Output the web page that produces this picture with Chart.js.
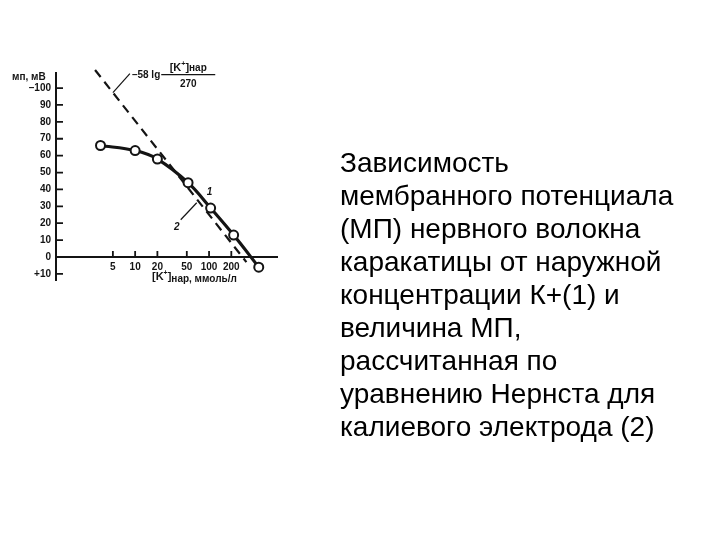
<!DOCTYPE html>
<html lang="ru">
<head>
<meta charset="utf-8">
<title>Мембранный потенциал</title>
<script src="https://cdn.jsdelivr.net/npm/chart.js@4"></script>
<style>
  body { margin: 0; background: #fff; }
  #wrap { position: relative; width: 720px; height: 540px; overflow: hidden; }
  #mpChart { position: absolute; left: 0; top: 0; }
  #caption {
    position: absolute; left: 340px; top: 146px;
    font-family: 'Liberation Sans', Arial, sans-serif;
    font-size: 28px; line-height: 33px; color: #000;
  }
</style>
</head>
<body>
<div id="wrap">
  <canvas id="mpChart" width="720" height="540"></canvas>
  <div id="caption">Зависимость<br>мембранного потенциала<br>(МП) нервного волокна<br>каракатицы от наружной<br>концентрации К+(1) и<br>величина МП,<br>рассчитанная по<br>уравнению Нернста для<br>калиевого электрода (2)</div>
</div>
<script>
// curve 1: measured MP vs external K+ (mmol/l)
const concentrations = [3.4, 10, 20, 52, 105, 215, 470];
const membranePotential = [66, 63, 58, 44, 29, 13, -6];
// line 2: Nernst estimate (two ends of the dashed line)
const nernstConc = [2.87, 320];
const nernstPotential = [110.7, -3];
// axis ticks
const xTicks = [5, 10, 20, 50, 100, 200];
const yTicks = [-10, 0, 10, 20, 30, 40, 50, 60, 70, 80, 90, 100];

const ink = '#141414';
const family = "'Liberation Sans', Arial, sans-serif";

function yLabel(v) {
    if (v === 100) return '\u2013100';
    if (v === -10) return '+10';
    return String(v);
}

// draw a run of text pieces: [text, font, dy]
function drawRun(ctx, x, y, parts) {
    parts.forEach(([text, font, dy]) => {
        ctx.font = font;
        ctx.fillText(text, x, y + (dy || 0));
        x += ctx.measureText(text).width;
    });
    return x;
}

function runWidth(ctx, parts) {
    let w = 0;
    parts.forEach(([text, font]) => { ctx.font = font; w += ctx.measureText(text).width; });
    return w;
}

const axisMarks = {
    id: 'axisMarks',
    afterDraw(chart) {
        const { ctx, scales: { x, y } } = chart;
        const y0 = y.getPixelForValue(0);
        const left = x.left;
        ctx.save();
        ctx.strokeStyle = ink;
        ctx.fillStyle = ink;
        ctx.lineWidth = 1.8;

        // inward tick marks
        ctx.beginPath();
        yTicks.forEach(v => {
            const py = y.getPixelForValue(v);
            ctx.moveTo(left, py);
            ctx.lineTo(left + 7, py);
        });
        xTicks.forEach(v => {
            const px = x.getPixelForValue(v);
            ctx.moveTo(px, y0);
            ctx.lineTo(px, y0 - 6);
        });
        ctx.stroke();

        // axis titles
        const b11 = 'bold 11px ' + family;
        const b10 = 'bold 10px ' + family;
        ctx.textBaseline = 'alphabetic';
        ctx.textAlign = 'left';
        drawRun(ctx, left - 44, y.top + 7, [['мп, мВ', b10]]);
        drawRun(ctx, left + 96, chart.chartArea.bottom, [
            ['[K', b11], ['+', 'bold 7px ' + family, -5], [']', b11], ['нар', b10, 2], [', ммоль/л', b10, 2]
        ]);

        // dashed-line label: -58 lg [K+]нар / 270
        const dx0 = x.getPixelForValue(nernstConc[0]), dy0 = y.getPixelForValue(nernstPotential[0]);
        const dx1 = x.getPixelForValue(nernstConc[1]), dy1 = y.getPixelForValue(nernstPotential[1]);
        const onDash = v => {
            const px = x.getPixelForValue(v);
            return [px, dy0 + (px - dx0) * (dy1 - dy0) / (dx1 - dx0)];
        };
        const [ax, ay] = onDash(5);
        ctx.lineWidth = 1.2;
        ctx.beginPath();
        ctx.moveTo(ax, ay);
        ctx.lineTo(ax + 17, ay - 19);
        ctx.stroke();
        const tx = ax + 19, ty = ay - 15;
        const endLg = drawRun(ctx, tx, ty, [['\u201358 lg', b10]]);
        const numer = [['[K', b11], ['+', 'bold 7px ' + family, -5], [']', b11], ['нар', b10]];
        const fracW = 54;
        ctx.beginPath();
        ctx.moveTo(endLg + 1, ty - 3);
        ctx.lineTo(endLg + 1 + fracW, ty - 3);
        ctx.stroke();
        drawRun(ctx, endLg + 1 + (fracW - runWidth(ctx, numer)) / 2, ty - 7, numer);
        ctx.font = b10;
        ctx.textAlign = 'center';
        ctx.fillText('270', endLg + 1 + fracW / 2, ty + 9);

        // curve numbers
        ctx.font = 'italic bold 10px ' + family;
        const p5x = x.getPixelForValue(concentrations[4]);
        const p5y = y.getPixelForValue(membranePotential[4]);
        ctx.fillText('1', p5x - 1, p5y - 13);
        const [bx, by] = onDash(66);
        ctx.beginPath();
        ctx.moveTo(bx + 1, by + 5);
        ctx.lineTo(bx - 15, by + 22);
        ctx.stroke();
        ctx.fillText('2', bx - 19, by + 32);
        ctx.restore();
    }
};

new Chart(document.getElementById('mpChart'), {
    type: 'line',
    data: {
        datasets: [{
            label: '1',
            data: concentrations.map((c, i) => ({ x: c, y: membranePotential[i] })),
            borderColor: ink,
            borderWidth: 3.2,
            tension: 0.35,
            pointRadius: 4.5,
            pointBorderWidth: 2,
            pointBackgroundColor: '#fff',
            pointBorderColor: ink,
            clip: false
        }, {
            label: '2',
            data: nernstConc.map((c, i) => ({ x: c, y: nernstPotential[i] })),
            borderColor: ink,
            borderWidth: 2.2,
            borderDash: [9, 6],
            pointRadius: 0,
            clip: false
        }]
    },
    options: {
        responsive: false,
        animation: false,
        events: [],
        layout: { padding: { left: 16, right: 443, top: 73, bottom: 260 } },
        plugins: { legend: { display: false }, tooltip: { enabled: false } },
        scales: {
            x: {
                type: 'logarithmic',
                position: { y: 0 },
                min: 0.85,
                max: 830,
                grid: { display: false, drawTicks: false },
                border: { display: true, color: ink, width: 2 },
                afterBuildTicks: s => { s.ticks = xTicks.map(v => ({ value: v })); },
                ticks: {
                    autoSkip: false, maxRotation: 0, padding: 4, color: ink,
                    font: { family: family, size: 10, weight: 'bold' },
                    callback: v => String(v)
                }
            },
            y: {
                type: 'linear',
                position: 'left',
                min: -13.6,
                max: 108.9,
                afterFit: s => { s.width = 40; },
                grid: { display: false, drawTicks: false },
                border: { display: true, color: ink, width: 2 },
                afterBuildTicks: s => { s.ticks = yTicks.map(v => ({ value: v })); },
                ticks: {
                    padding: 5, color: ink,
                    font: { family: family, size: 10, weight: 'bold' },
                    callback: v => yLabel(v)
                }
            }
        }
    },
    plugins: [axisMarks]
});
</script>
</body>
</html>
